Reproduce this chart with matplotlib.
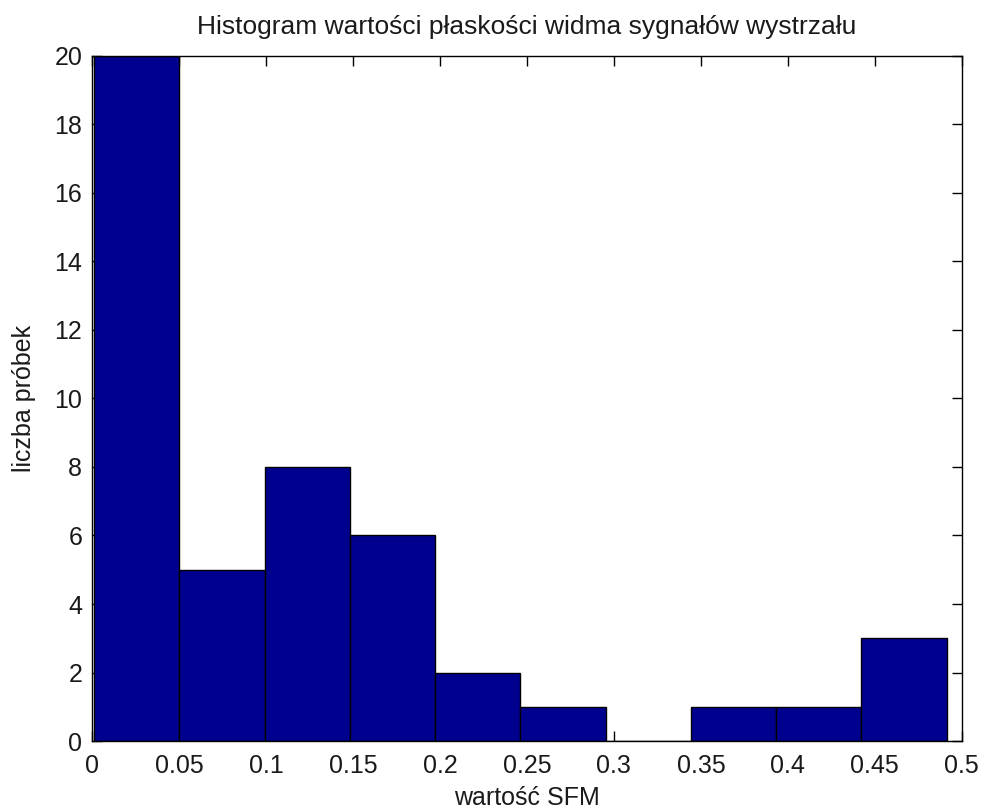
import matplotlib
matplotlib.use("Agg")
import matplotlib.pyplot as plt
import numpy as np

# Histogram bins (edges) and sample counts per bin
bin_edges = [0.0012, 0.0502, 0.0992, 0.1482, 0.1972, 0.2462,
             0.2952, 0.3442, 0.3932, 0.4422, 0.4912]
counts = [20, 5, 8, 6, 2, 1, 0, 1, 1, 3]
x_ticks = [0, 0.05, 0.1, 0.15, 0.2, 0.25, 0.3, 0.35, 0.4, 0.45, 0.5]
x_tick_labels = ["0", "0.05", "0.1", "0.15", "0.2", "0.25", "0.3",
                 "0.35", "0.4", "0.45", "0.5"]
y_ticks = [0, 2, 4, 6, 8, 10, 12, 14, 16, 18, 20]

plt.rcParams["font.family"] = ["Liberation Sans", "DejaVu Sans"]
FS = 18
TXT = "#1a1a1a"

fig = plt.figure(figsize=(9.84, 8.11), dpi=100)
ax = fig.add_axes([0.0935, 0.0863, 0.884, 0.8447])

edges = np.array(bin_edges)
ax.bar(edges[:-1], counts, width=np.diff(edges), align="edge",
       color="#00008F", edgecolor="black", linewidth=1.0, zorder=3)

ax.set_xlim(0, 0.5)
ax.set_ylim(0, 20)
ax.set_xticks(x_ticks)
ax.set_xticklabels(x_tick_labels)
ax.set_yticks(y_ticks)

ax.tick_params(direction="in", length=7, width=1, top=True, right=True,
               labelsize=FS, colors="black", labelcolor=TXT)
ax.tick_params(axis="x", pad=9)
ax.tick_params(axis="y", pad=7)
for s in ax.spines.values():
    s.set_linewidth(1)
    s.set_zorder(4)

ax.set_title("Histogram wartości płaskości widma sygnałów wystrzału",
             fontsize=19, pad=16, color=TXT)
ax.set_xlabel("wartość SFM", fontsize=FS, labelpad=6, color=TXT)
ax.set_ylabel("liczba próbek", fontsize=FS, labelpad=13, color=TXT)

fig.savefig("out.png", dpi=100, facecolor="white")
